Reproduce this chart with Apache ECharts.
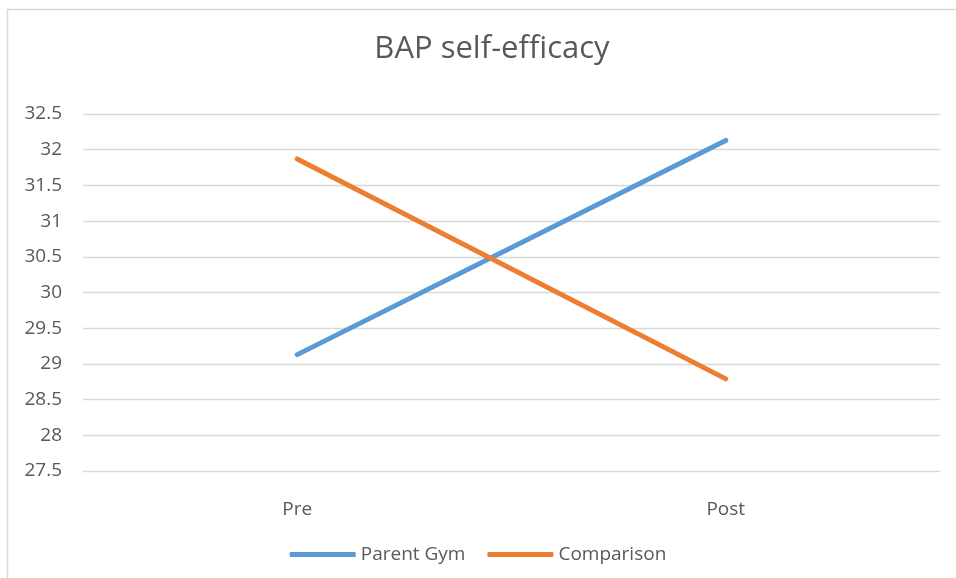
<!DOCTYPE html>
<html>
<head>
<meta charset="utf-8">
<script src="https://cdn.jsdelivr.net/npm/echarts@6/dist/echarts.min.js"></script>
<style>
html,body{margin:0;padding:0;background:#fff;}
#chart{width:956px;height:578px;}
</style>
</head>
<body>
<div id="chart"></div>
<script>
const categories = ['Pre', 'Post'];
const parentGym = [29.13, 32.13];
const comparison = [31.87, 28.79];
const yMin = 27.5, yMax = 32.5, yStep = 0.5;

const chart = echarts.init(document.getElementById('chart'));
const font = 'Open Sans, Liberation Sans, sans-serif';
chart.setOption({
  backgroundColor: '#fff',
  animation: false,
  graphic: [{
    type: 'rect',
    shape: {x: 7.5, y: 9.5, width: 1000, height: 600},
    style: {fill: 'none', stroke: '#d9d9d9', lineWidth: 1.5}
  }],
  title: {
    text: 'BAP self-efficacy',
    left: 487, top: 29, textAlign: 'center',
    textStyle: {fontFamily: font, fontSize: 31, fontWeight: 'normal', color: '#595959'}
  },
  legend: {
    bottom: 9, left: 'center',
    itemWidth: 66, itemHeight: 5, itemGap: 22,
    icon: 'roundRect',
    textStyle: {fontFamily: font, fontSize: 19, color: '#595959'},
    data: ['Parent Gym', 'Comparison']
  },
  grid: {left: 83, right: 16, top: 114, bottom: 107, containLabel: false},
  xAxis: {
    type: 'category', data: categories, boundaryGap: true,
    axisLine: {show: true, lineStyle: {color: '#d9d9d9'}},
    axisTick: {show: false},
    axisLabel: {fontFamily: font, fontSize: 19, color: '#595959', margin: 29}
  },
  yAxis: {
    type: 'value', min: yMin, max: yMax, interval: yStep,
    axisLine: {show: false}, axisTick: {show: false},
    splitLine: {lineStyle: {color: '#d9d9d9', width: 1.3}},
    axisLabel: {fontFamily: font, fontSize: 19, color: '#595959', margin: 21}
  },
  series: [
    {name: 'Parent Gym', type: 'line', data: parentGym, symbol: 'none',
     lineStyle: {width: 5, color: '#5B9BD5', cap: 'round'}, itemStyle: {color: '#5B9BD5'}},
    {name: 'Comparison', type: 'line', data: comparison, symbol: 'none',
     lineStyle: {width: 5, color: '#ED7D31', cap: 'round'}, itemStyle: {color: '#ED7D31'}}
  ]
});
</script>
</body>
</html>
